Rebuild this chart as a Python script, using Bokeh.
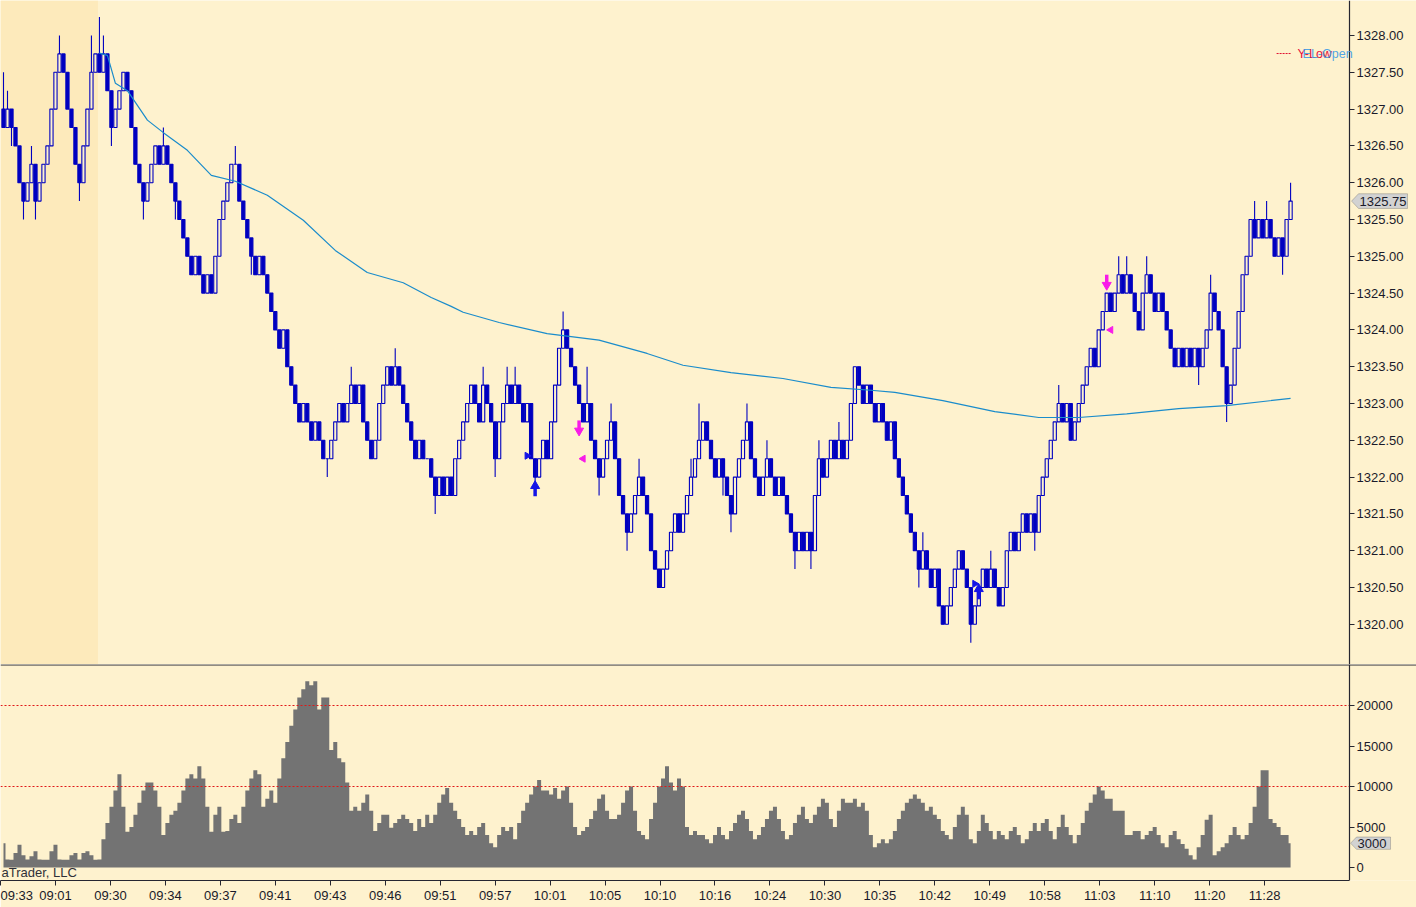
import math
from bokeh.plotting import figure
from bokeh.layouts import column
from bokeh.models import (Range1d, FixedTicker, NumeralTickFormatter, BoxAnnotation,
                          Span, Label, PolyAnnotation, LinearAxis)
from bokeh.embed import file_html
from bokeh.resources import INLINE

# ---------------- data ----------------
TICK = 0.25
BASE = 1320.0
open_first_tick = 28
# bar closes, in ticks (0.25) above 1320.00
close_ticks = [
    27, 28, 27, 26, 24, 23, 24, 25, 23, 24,
    25, 26, 28, 30, 31, 30, 28, 27, 25, 24,
    26, 28, 30, 31, 30, 31, 29, 27, 28, 29,
    30, 29, 27, 25, 24, 23, 24, 25, 26, 25,
    26, 25, 24, 23, 22, 21, 20, 19, 20, 19,
    18, 19, 18, 20, 22, 23, 24, 25, 25, 23,
    22, 21, 20, 19, 20, 19, 18, 17, 16, 15,
    16, 14, 13, 12, 11, 12, 11, 10, 11, 10,
    9, 9, 10, 11, 12, 11, 12, 13, 12, 13,
    11, 10, 9, 10, 12, 13, 14, 13, 14, 13,
    12, 11, 10, 9, 10, 9, 9, 8, 7, 8,
    7, 8, 7, 9, 10, 11, 12, 13, 12, 11,
    13, 12, 11, 9, 11, 12, 13, 12, 13, 12,
    11, 12, 9, 8, 9, 10, 9, 11, 13, 15,
    16, 15, 14, 13, 12, 11, 12, 10, 9, 8,
    9, 10, 11, 9, 7, 6, 5, 6, 7, 8,
    7, 6, 4, 3, 2, 3, 4, 5, 6, 5,
    6, 7, 8, 9, 10, 11, 10, 9, 8, 9,
    8, 7, 6, 8, 9, 10, 11, 9, 8, 7,
    8, 9, 8, 7, 8, 7, 6, 5, 4, 5,
    4, 5, 4, 7, 9, 8, 9, 10, 9, 10,
    9, 10, 12, 14, 13, 12, 13, 12, 11, 12,
    11, 10, 11, 9, 8, 7, 6, 5, 4, 3,
    4, 3, 2, 3, 1, 0, 1, 2, 3, 4,
    3, 2, 0, 1, 2, 3, 2, 3, 2, 1,
    2, 4, 5, 4, 5, 6, 5, 6, 5, 7,
    8, 9, 10, 11, 12, 11, 12, 10, 11, 12,
    13, 14, 15, 14, 16, 17, 18, 17, 18, 19,
    18, 19, 18, 17, 16, 18, 19, 18, 17, 18,
    17, 16, 15, 14, 15, 14, 15, 14, 15, 14,
    15, 16, 18, 17, 16, 14, 12, 13, 15, 17,
    19, 20, 22, 21, 22, 21, 22, 21, 20, 21,
    20, 22, 23,
]
# extra wick length (ticks) above / below the body, by bar index
wick_up = {0: 2, 1: 1, 7: 1, 14: 1, 22: 2, 24: 2, 25: 1, 40: 1, 58: 1, 87: 1, 98: 1,
           120: 1, 126: 1, 128: 1, 140: 1, 146: 2, 152: 1, 159: 1, 172: 1, 174: 2,
           186: 1, 191: 1, 204: 1, 209: 1, 230: 1, 247: 1, 264: 1, 279: 1, 281: 1,
           286: 1, 302: 1, 313: 1, 316: 1, 322: 1}
wick_dn = {2: 1, 5: 1, 8: 1, 19: 1, 27: 1, 35: 1, 43: 1, 62: 1, 81: 1, 108: 1,
           123: 1, 133: 1, 149: 1, 156: 1, 180: 1, 182: 1, 198: 1, 202: 1, 229: 1,
           242: 1, 258: 1, 299: 1, 306: 1, 320: 1}
volume = [
    3000, 1000, 950, 1800, 2800, 1500, 1000, 1400, 2000, 1000,
    950, 950, 2000, 2800, 1000, 950, 950, 1500, 1800, 1000,
    1800, 2000, 1500, 950, 1000, 3500, 5500, 7500, 9500, 11500,
    7500, 4400, 5000, 6500, 8000, 9500, 10500, 10500, 9500, 7500,
    4000, 5500, 6500, 7000, 8000, 9500, 11000, 11500, 11000, 12500,
    11000, 7500, 4400, 6500, 7500, 4400, 4500, 6000, 6500, 5500,
    7500, 9500, 11000, 12000, 11500, 7500, 8500, 9500, 8000, 11000,
    13500, 15500, 17500, 19500, 21000, 22000, 23000, 22500, 23000, 19500,
    21000, 21000, 14500, 15500, 13500, 13000, 10500, 7000, 7500, 7000,
    8000, 9000, 7000, 4500, 5500, 6500, 6500, 4900, 5500, 6000,
    6500, 6000, 5500, 4500, 6000, 5000, 6500, 5500, 6500, 8000,
    9000, 9800, 8000, 7000, 6000, 5000, 4000, 4500, 4000, 5000,
    5500, 4000, 3000, 2500, 4000, 5000, 4500, 5000, 3500, 5500,
    7000, 8000, 9000, 10000, 10800, 9500, 9500, 9000, 9800, 8500,
    9500, 10000, 8000, 5000, 4000, 4500, 5000, 6000, 7000, 8500,
    9000, 7000, 6000, 6000, 6500, 8000, 9500, 10000, 7000, 4500,
    4000, 3500, 6000, 8000, 10000, 11000, 12500, 10500, 9500, 11000,
    10000, 5000, 4000, 4500, 4000, 4000, 3500, 3000, 4000, 5000,
    4000, 3500, 4500, 5500, 6500, 7000, 6000, 4500, 3500, 4000,
    5000, 6000, 7000, 7500, 6000, 4500, 3500, 4000, 5500, 6500,
    7500, 6000, 5500, 6500, 7500, 8500, 8000, 6000, 5000, 7000,
    8500, 8000, 8000, 8500, 7500, 8000, 7000, 4000, 2500, 3000,
    3500, 3000, 3500, 4500, 6000, 7000, 8000, 8500, 9000, 8500,
    8000, 7000, 7500, 6500, 6000, 4500, 4000, 3500, 5000, 6500,
    7500, 6500, 3500, 3000, 4500, 6500, 5500, 4500, 3500, 4500,
    4000, 3500, 4500, 5000, 4000, 3000, 3500, 4500, 5500, 4500,
    5500, 6000, 4500, 3500, 5000, 6500, 5000, 4000, 3000, 4000,
    5500, 7000, 8000, 9000, 10000, 9500, 8500, 8500, 7000, 7000,
    7000, 4000, 4000, 4500, 4500, 3500, 4000, 4500, 5000, 4000,
    3000, 2500, 4000, 4500, 3500, 2900, 2300, 1500, 1000, 2500,
    4000, 5900, 6500, 1500, 2000, 2500, 3000, 4000, 5000, 4000,
    3500, 4000, 5500, 7500, 10000, 12000, 12000, 6000, 5500, 5000,
    4000, 4000, 3000,
]
# moving average line, sampled at bar indices
ema_bar = [24, 26, 28, 31, 36, 40, 46, 52, 58, 66, 75, 83, 91, 100, 107, 112, 115, 124,
           136, 149, 161, 170, 182, 195, 207, 217, 223, 235, 248, 259, 269, 281, 294,
           306, 322]
ema_value = [1327.76, 1327.73, 1327.35, 1327.25, 1326.85, 1326.68, 1326.44, 1326.10,
             1326.02, 1325.83, 1325.49, 1325.08, 1324.78, 1324.64, 1324.44, 1324.32,
             1324.24, 1324.10, 1323.95, 1323.86, 1323.68, 1323.52, 1323.42, 1323.34,
             1323.22, 1323.18, 1323.15, 1323.04, 1322.89, 1322.81, 1322.81, 1322.86,
             1322.93, 1322.97, 1323.07]
# strategy signals
long_bar = [133, 244]
long_price = [1321.93, 1320.53]
short_bar = [144, 276]
short_price = [1322.58, 1324.56]
long_entry_bar = [131, 243]
long_entry_price = [1322.29, 1320.55]
short_entry_bar = [145, 277]
short_entry_price = [1322.25, 1324.00]

session_start_bar = 24
time_labels = ["09:33", "09:01", "09:30", "09:34", "09:37", "09:41", "09:43", "09:46",
               "09:51", "09:57", "10:01", "10:05", "10:10", "10:16", "10:24", "10:30",
               "10:35", "10:42", "10:49", "10:58", "11:03", "11:10", "11:20", "11:28"]
price_ticks = [1320.0, 1320.5, 1321.0, 1321.5, 1322.0, 1322.5, 1323.0, 1323.5, 1324.0,
               1324.5, 1325.0, 1325.5, 1326.0, 1326.5, 1327.0, 1327.5, 1328.0]
vol_ticks = [0, 5000, 10000, 15000, 20000]
vol_levels = [10000, 20000]
last_price = 1325.75
last_volume = 3000

# ---------------- styles ----------------
BG = "#FEF2CE"
PRE = "#FDEABB"
BLUE = "#0000C0"
EMA_C = "#1A8CCB"
MAG = "#F81BE8"
AX = "#262630"
FONT = "Liberation Sans"
FS = "13px"
STEP, OFF = 4, 2      # horizontal bar spacing in the x scale
AXIS_X = 1349         # where the value axes sit
W = 1416

n = min(len(close_ticks), len(volume))
xs = [OFF + STEP * i for i in range(n)]
close = [BASE + TICK * t for t in close_ticks[:n]]
opens = [BASE + TICK * open_first_tick] + close[:-1]
body_top = [max(o, c) for o, c in zip(opens, close)]
body_bot = [min(o, c) for o, c in zip(opens, close)]
high = [body_top[i] + TICK * wick_up.get(i, 0) for i in range(n)]
low = [body_bot[i] - TICK * wick_dn.get(i, 0) for i in range(n)]
fills = [BLUE if c < o else BG for o, c in zip(opens, close)]
bx = lambda b: OFF + STEP * b

x_range = Range1d(-1, W)


def style_axis(ax, ticks, fmt=None):
    ax.ticker = FixedTicker(ticks=ticks)
    if fmt is not None:
        ax.formatter = fmt
    ax.axis_line_color = AX
    ax.axis_line_width = 1.2
    ax.major_tick_line_color = AX
    ax.minor_tick_line_color = None
    ax.major_tick_out = 5
    ax.major_tick_in = 0
    ax.major_label_standoff = 2
    ax.major_label_text_font = FONT
    ax.major_label_text_font_size = FS
    ax.major_label_text_color = "#1A1A2A"


# ---------------- price panel ----------------
p = figure(width=W, height=664, x_range=x_range, y_range=Range1d(1319.4538, 1328.4755),
           output_backend="svg", toolbar_location=None, x_axis_location=None,
           y_axis_location=None, min_border_left=0, min_border_right=0,
           min_border_top=0, min_border_bottom=0)
p.background_fill_color = BG
p.border_fill_color = BG
p.outline_line_color = None
p.grid.visible = False
pax = LinearAxis(fixed_location=AXIS_X)
style_axis(pax, price_ticks, NumeralTickFormatter(format="0.00"))
p.add_layout(pax, "right")

p.add_layout(BoxAnnotation(right=bx(session_start_bar) - 1.5, fill_color=PRE, fill_alpha=1,
                           line_color=None, level="underlay"))

p.segment(x0=xs, y0=low, x1=xs, y1=high, line_color=BLUE, line_width=1.1)
p.vbar(x=xs, width=3.2, top=body_top, bottom=body_bot, fill_color=fills,
       line_color=BLUE, line_width=1.1)
p.line(x=[bx(b) for b in ema_bar], y=ema_value, line_color=EMA_C, line_width=1.2)

# signals
lx = [bx(b) for b in long_bar]
p.segment(x0=lx, y0=[v - 0.19 for v in long_price], x1=lx, y1=[v - 0.06 for v in long_price],
          line_color="#1414E6", line_width=3.5)
p.scatter(x=lx, y=[v - 0.05 for v in long_price], marker="triangle", size=9,
          fill_color="#1414E6", line_color="#1414E6")
sx = [bx(b) for b in short_bar]
p.segment(x0=sx, y0=[v + 0.19 for v in short_price], x1=sx, y1=[v + 0.06 for v in short_price],
          line_color=MAG, line_width=3.5)
p.scatter(x=sx, y=[v + 0.05 for v in short_price], marker="inverted_triangle", size=9,
          fill_color=MAG, line_color=MAG)
p.scatter(x=[bx(b) for b in long_entry_bar], y=long_entry_price, marker="triangle",
          angle=-math.pi / 2, size=7, fill_color="#1414E6", line_color="#1414E6")
p.scatter(x=[bx(b) for b in short_entry_bar], y=short_entry_price, marker="triangle",
          angle=math.pi / 2, size=7, fill_color=MAG, line_color=MAG)

# legend (top right)
p.segment(x0=[1276], y0=[1327.755], x1=[1291], y1=[1327.755], line_color="#E01030",
          line_width=1, line_dash="2 1")
p.add_layout(Label(x=1297, y=1327.755, text="Y-Low", text_color="#E8103A",
                   text_font=FONT, text_font_size="12.5px", text_baseline="middle"))
p.add_layout(Label(x=1302, y=1327.755, text="EL-Open", text_color="#3C9BE6",
                   text_font=FONT, text_font_size="12.5px", text_baseline="middle",
                   text_alpha=0.9))

# last price marker
h = 0.1
p.add_layout(PolyAnnotation(xs=[1351, 1358, 1407, 1407, 1358],
                            ys=[last_price, last_price + h, last_price + h,
                                last_price - h, last_price - h],
                            fill_color="#D2D2D2", fill_alpha=1, line_color="#505050",
                            line_width=1))
p.add_layout(Label(x=1359, y=last_price, text=f"{last_price:.2f}", text_font=FONT,
                   text_font_size=FS, text_color="#1A1A2A", text_baseline="middle"))

# ---------------- indicator panel ----------------
q = figure(width=W, height=243, x_range=x_range, y_range=Range1d(-1605, 25062),
           output_backend="svg", toolbar_location=None, y_axis_location=None,
           min_border_left=0, min_border_right=0, min_border_top=0, min_border_bottom=27)
q.background_fill_color = BG
q.border_fill_color = BG
q.outline_line_color = None
q.grid.visible = False
qax = LinearAxis(fixed_location=AXIS_X)
style_axis(qax, vol_ticks, NumeralTickFormatter(format="0"))
q.add_layout(qax, "right")
tick_pos = [-1 + 55 * k for k in range(len(time_labels))]
style_axis(q.xaxis[0], tick_pos)
q.xaxis[0].bounds = (-1, AXIS_X)
q.xaxis[0].major_label_overrides = {t: s for t, s in zip(tick_pos, time_labels)}

q.varea_step(x=xs, y1=[0] * n, y2=volume[:n], step_mode="center", fill_color="#737373")
q.segment(x0=[x_range.start] * len(vol_levels), y0=vol_levels,
          x1=[AXIS_X] * len(vol_levels), y1=vol_levels,
          line_color="#E01818", line_dash="2 2", line_width=1)
q.add_layout(Span(location=25062 - 55, dimension="width", line_color=AX, line_width=1.2))

hv = 760
q.add_layout(PolyAnnotation(xs=[1350, 1356, 1390, 1390, 1356],
                            ys=[last_volume, last_volume + hv, last_volume + hv,
                                last_volume - hv, last_volume - hv],
                            fill_color="#D2D2D2", fill_alpha=1, line_color="#505050",
                            line_width=1))
q.add_layout(Label(x=1357, y=last_volume, text=str(last_volume), text_font=FONT,
                   text_font_size=FS, text_color="#1A1A2A", text_baseline="middle"))
q.add_layout(Label(x=0, y=-1500, text="aTrader, LLC", text_font=FONT,
                   text_font_size=FS, text_color="#303038", text_baseline="bottom"))

layout = column(p, q, spacing=0)

open("out.html", "w").write(file_html(layout, INLINE))
